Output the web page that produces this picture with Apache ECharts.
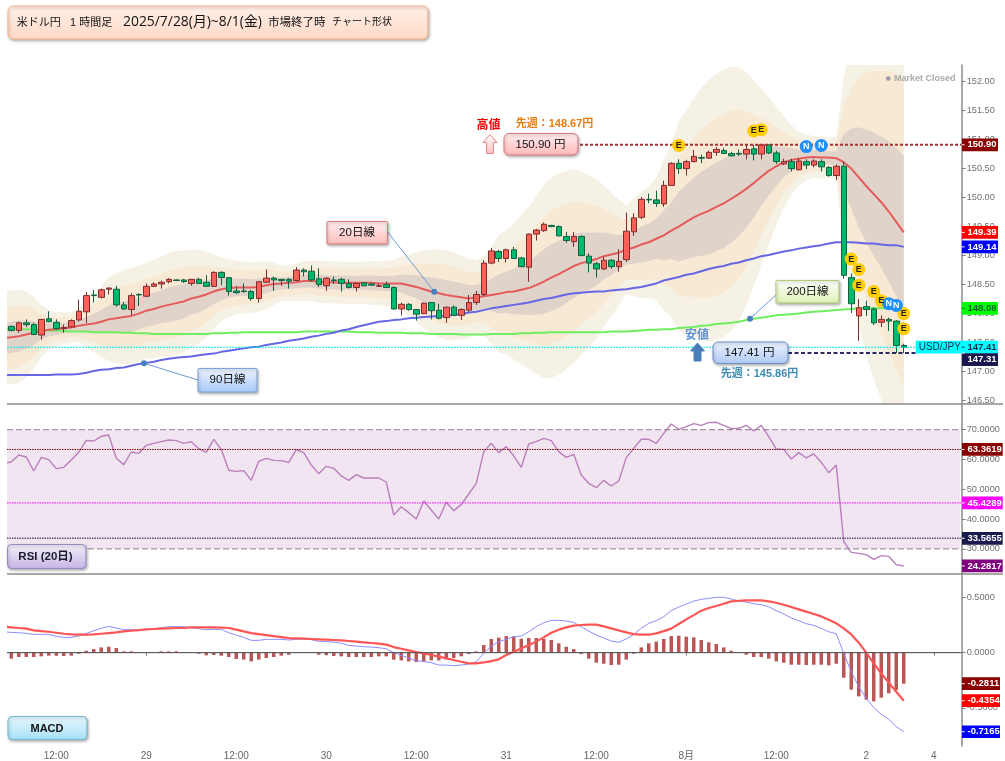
<!DOCTYPE html>
<html><head><meta charset="utf-8">
<style>html,body{margin:0;padding:0;background:#fff}#c{width:1005px;height:761px}</style>
<script src="https://cdn.jsdelivr.net/npm/echarts@6/dist/echarts.min.js"></script>
</head><body><div id="c"></div>
<script>
// ---- bars (hourly, 7/28 06:00 .. 8/2 05:00) ----
const opens=[147.77,147.70,147.83,147.80,147.62,147.90,147.84,147.73,147.76,147.88,
148.02,148.31,148.27,148.41,148.41,148.14,148.06,148.32,148.29,148.46,
148.50,148.54,148.57,148.57,148.51,148.58,148.53,148.46,148.70,148.61,
148.38,148.38,148.37,148.25,148.53,148.60,148.58,148.58,148.56,148.74,
148.72,148.59,148.47,148.57,148.58,148.51,148.44,148.52,148.50,148.46,
148.49,148.44,148.07,148.15,148.06,147.99,148.18,148.05,147.92,148.10,
147.96,148.05,148.18,148.32,148.86,149.06,148.94,149.09,148.95,148.79,
149.36,149.42,149.51,149.49,149.32,149.23,149.32,148.98,148.85,148.76,
148.91,148.80,148.92,149.40,149.65,149.96,149.95,149.88,150.20,150.58,
150.49,150.61,150.68,150.67,150.77,150.80,150.75,150.75,150.74,150.83,
150.74,150.90,150.76,150.57,150.61,150.47,150.61,150.55,150.61,150.51,
150.37,150.53,148.61,147.95,148.11,148.07,147.84,147.89,147.86,147.44];
const closes=[147.70,147.83,147.80,147.63,147.89,147.85,147.73,147.75,147.87,148.03,
148.30,148.30,148.40,148.43,148.14,148.07,148.30,148.31,148.46,148.50,
148.53,148.58,148.56,148.54,148.58,148.51,148.46,148.70,148.61,148.37,
148.35,148.37,148.25,148.54,148.60,148.57,148.56,148.55,148.74,148.71,
148.57,148.49,148.60,148.56,148.51,148.44,148.51,148.47,148.48,148.47,
148.44,148.07,148.15,148.06,147.98,148.17,148.04,147.91,148.10,147.96,
148.06,148.18,148.32,148.86,149.07,148.94,149.09,148.94,148.80,149.36,
149.43,149.53,149.49,149.33,149.25,149.32,148.99,148.86,148.76,148.91,
148.80,148.89,149.41,149.64,149.96,149.95,149.89,150.20,150.58,150.49,
150.61,150.70,150.67,150.77,150.82,150.75,150.71,150.74,150.82,150.74,
150.90,150.76,150.61,150.61,150.49,150.62,150.55,150.62,150.52,150.37,
150.53,148.65,148.16,148.09,148.06,147.83,147.89,147.86,147.44,147.41];
const highs=[147.78,147.85,147.89,147.83,147.89,148.03,147.89,147.80,147.89,148.23,
148.36,148.40,148.42,148.44,148.47,148.19,148.34,148.34,148.51,148.53,
148.56,148.60,148.58,148.59,148.58,148.61,148.65,148.72,148.72,148.61,
148.46,148.51,148.40,148.55,148.75,148.63,148.58,148.60,148.79,148.77,
148.82,148.77,148.62,148.63,148.61,148.58,148.52,148.53,148.52,148.51,
148.54,148.46,148.18,148.17,148.06,148.18,148.19,148.16,148.11,148.13,
148.08,148.31,148.38,148.91,149.12,149.09,149.11,149.14,148.97,149.37,
149.45,149.56,149.52,149.51,149.40,149.40,149.34,149.03,148.88,148.97,
148.93,149.10,149.73,149.72,150.00,150.06,150.11,150.28,150.60,150.65,
150.64,150.81,150.73,150.80,150.86,150.85,150.78,150.82,150.90,150.90,
150.90,150.90,150.80,150.66,150.66,150.67,150.65,150.65,150.65,150.53,
150.56,150.61,148.68,148.24,148.21,148.10,147.96,147.92,147.88,147.47];
const lows=[147.68,147.66,147.76,147.62,147.54,147.84,147.71,147.66,147.75,147.85,
147.83,148.18,148.25,148.32,148.11,148.05,147.96,148.12,148.27,148.45,
148.42,148.51,148.55,148.52,148.47,148.50,148.45,148.45,148.48,148.30,
148.33,148.35,148.21,148.18,148.52,148.38,148.47,148.42,148.55,148.63,
148.54,148.45,148.38,148.50,148.37,148.42,148.37,148.46,148.47,148.45,
148.43,148.06,147.96,148.04,147.87,147.98,147.89,147.89,147.83,147.95,
147.88,148.02,148.14,148.29,148.84,148.88,148.87,148.93,148.79,148.54,
149.25,149.40,149.48,149.32,149.21,149.14,148.98,148.70,148.61,148.74,
148.76,148.71,148.88,149.33,149.62,149.89,149.83,149.83,150.19,150.40,
150.37,150.60,150.58,150.66,150.71,150.74,150.70,150.71,150.65,150.63,
150.65,150.74,150.57,150.55,150.44,150.46,150.48,150.51,150.44,150.35,
150.29,148.59,148.00,147.52,147.95,147.79,147.76,147.69,147.31,147.31];
// ---- lines: first entry is the bar just before the first candle ----
const ma20=[147.57,147.58,147.60,147.63,147.66,147.69,147.71,147.72,147.74,147.75,147.78,
147.80,147.82,147.85,147.89,147.91,147.93,147.95,147.99,148.04,148.07,
148.11,148.14,148.17,148.20,148.25,148.28,148.32,148.37,148.41,148.43,
148.44,148.44,148.44,148.45,148.48,148.50,148.51,148.52,148.53,148.55,
148.55,148.54,148.53,148.53,148.52,148.52,148.52,148.52,148.52,148.51,
148.51,148.51,148.51,148.48,148.45,148.41,148.37,148.34,148.31,148.29,
148.27,148.25,148.27,148.29,148.31,148.33,148.36,148.37,148.40,148.43,
148.48,148.54,148.61,148.67,148.74,148.81,148.86,148.89,148.93,148.98,
149.01,149.04,149.09,149.13,149.18,149.22,149.28,149.34,149.42,149.49,
149.57,149.65,149.71,149.76,149.83,149.89,149.97,150.05,150.14,150.24,
150.35,150.45,150.53,150.60,150.64,150.66,150.68,150.69,150.68,150.68,
150.67,150.60,150.49,150.34,150.19,150.05,149.91,149.75,149.57,149.39];
const ma90=[146.93,146.93,146.93,146.93,146.93,146.93,146.93,146.94,146.94,146.94,146.95,
146.97,147.00,147.02,147.03,147.05,147.06,147.09,147.12,147.14,147.16,
147.19,147.21,147.23,147.24,147.25,147.27,147.29,147.30,147.33,147.35,
147.37,147.39,147.41,147.42,147.45,147.47,147.49,147.52,147.54,147.56,
147.59,147.61,147.64,147.66,147.70,147.72,147.76,147.79,147.82,147.85,
147.86,147.88,147.89,147.91,147.92,147.93,147.94,147.95,147.95,147.97,
147.98,148.01,148.02,148.05,148.08,148.10,148.12,148.14,148.16,148.18,
148.21,148.24,148.26,148.29,148.32,148.34,148.35,148.36,148.37,148.37,
148.39,148.40,148.41,148.43,148.45,148.48,148.51,148.56,148.59,148.62,
148.66,148.68,148.72,148.76,148.79,148.81,148.85,148.87,148.91,148.94,
148.98,149.00,149.03,149.06,149.08,149.11,149.13,149.15,149.17,149.20,
149.22,149.22,149.22,149.21,149.20,149.20,149.18,149.17,149.17,149.14];
const ma200=[147.72,147.72,147.72,147.72,147.71,147.71,147.70,147.70,147.69,147.68,147.68,
147.68,147.67,147.67,147.67,147.67,147.66,147.66,147.65,147.65,147.64,
147.64,147.64,147.64,147.64,147.64,147.64,147.64,147.65,147.65,147.66,
147.66,147.67,147.67,147.67,147.67,147.67,147.67,147.67,147.67,147.68,
147.68,147.68,147.68,147.68,147.68,147.68,147.67,147.67,147.67,147.66,
147.66,147.66,147.66,147.65,147.65,147.65,147.64,147.64,147.64,147.64,
147.63,147.63,147.63,147.63,147.64,147.64,147.64,147.64,147.65,147.65,
147.66,147.66,147.67,147.67,147.67,147.67,147.67,147.67,147.67,147.67,
147.68,147.68,147.68,147.69,147.70,147.71,147.71,147.72,147.72,147.74,
147.75,147.76,147.78,147.79,147.81,147.82,147.83,147.85,147.88,147.90,
147.92,147.94,147.96,147.97,147.98,147.99,148.01,148.02,148.03,148.04,
148.05,148.06,148.07,148.08,148.08,148.08,148.08,148.08,148.08,148.08];
// width of one band step around the 20-bar line, as read from the shaded edges
const bandStep=[.270,.270,.270,.247,.207,.149,.115,.098,.092,.086,.098,
.132,.167,.201,.241,.259,.270,.276,.276,.276,.282,
.287,.299,.299,.293,.282,.270,.247,.213,.184,.167,
.155,.149,.144,.144,.138,.121,.103,.103,.109,.115,
.115,.121,.121,.121,.121,.121,.121,.121,.126,.126,
.132,.132,.155,.178,.201,.224,.241,.253,.259,.253,
.241,.230,.213,.230,.276,.339,.356,.391,.431,.466,
.511,.557,.575,.580,.569,.557,.529,.494,.460,.408,
.356,.305,.253,.282,.305,.322,.351,.431,.494,.603,
.644,.684,.724,.753,.764,.770,.759,.730,.672,.592,
.506,.425,.339,.264,.201,.155,.132,.121,.121,.115,
.121,.489,.690,.862,.971,1.063,1.132,1.213,1.276,1.322];
const rsi=[58.72,59.16,61.51,60.84,56.14,60.73,59.95,56.93,57.37,59.84,62.41,
66.43,66.21,67.78,68.22,60.39,58.27,62.52,62.07,64.76,65.43,
65.99,66.55,66.32,65.43,65.99,63.64,62.41,66.77,63.41,56.37,
56.03,56.26,53.01,59.39,60.39,59.72,59.61,59.05,63.30,62.30,
58.16,55.25,57.71,57.04,54.47,53.01,54.91,53.79,53.79,53.79,
52.45,41.38,44.17,42.16,40.04,46.08,43.06,40.04,45.63,42.83,
44.85,48.43,52.00,62.63,65.43,62.30,64.31,61.18,57.37,65.20,
65.99,67.11,66.32,62.63,60.73,61.74,54.80,52.00,50.55,53.01,
51.11,52.79,60.62,63.75,66.77,66.77,65.43,68.78,71.92,70.13,
71.02,72.03,71.47,72.36,72.48,71.47,70.35,70.46,71.47,69.57,
71.47,67.67,63.53,63.41,60.17,62.30,60.51,61.85,59.05,55.58,
58.16,32.43,28.85,28.51,28.07,26.50,27.73,27.51,24.71,24.28];
const macd=[.190,.184,.181,.175,.166,.166,.166,.148,.139,.139,.151,
.175,.199,.221,.239,.224,.209,.209,.209,.212,.218,
.227,.236,.236,.236,.227,.218,.209,.212,.212,.181,
.160,.139,.112,.112,.121,.121,.121,.115,.121,.124,
.118,.103,.100,.097,.085,.066,.060,.054,.051,.045,
.036,0,-.024,-.048,-.073,-.079,-.091,-.112,-.112,-.118,
-.112,-.103,-.082,-.006,.060,.100,.121,.145,.151,.190,
.236,.272,.293,.293,.287,.275,.236,.196,.160,.133,
.106,.094,.124,.166,.221,.266,.290,.326,.381,.414,
.441,.468,.484,.493,.502,.502,.487,.468,.459,.444,
.435,.417,.381,.351,.314,.290,.263,.248,.221,.190,
.172,-.006,-.172,-.308,-.414,-.496,-.559,-.604,-.671,-.7165];
const signal=[.236,.230,.224,.218,.202,.196,.190,.181,.172,.166,.163,
.163,.166,.172,.178,.184,.193,.199,.205,.212,.215,
.218,.221,.224,.224,.230,.230,.230,.230,.227,.224,
.209,.193,.178,.169,.160,.151,.142,.133,.130,.127,
.124,.121,.118,.115,.112,.106,.100,.094,.088,.082,
.073,.051,.036,.021,.006,-.006,-.021,-.036,-.051,-.066,
-.082,-.097,-.097,-.088,-.076,-.060,-.021,.009,.039,.070,
.100,.139,.181,.209,.230,.245,.251,.254,.254,.239,
.221,.202,.184,.169,.163,.163,.175,.196,.218,.260,
.302,.341,.381,.405,.423,.444,.465,.471,.474,.474,
.474,.465,.453,.435,.414,.393,.372,.351,.329,.299,
.266,.221,.166,.091,0,-.097,-.187,-.272,-.354,-.4354];
const hist=[-.054,-.039,-.039,-.039,-.033,-.027,-.027,-.030,-.027,-.009,
.018,.033,.048,.054,.042,.012,.012,.001,.001,.001,
.012,.012,.012,.003,.003,-.009,-.024,-.021,-.027,-.039,
-.057,-.063,-.079,-.063,-.048,-.039,-.027,-.018,0,.003,
0,-.018,-.021,-.030,-.033,-.039,-.039,-.039,-.039,-.033,
-.033,-.063,-.070,-.079,-.085,-.082,-.070,-.070,-.060,-.048,
-.033,-.012,.012,.070,.124,.136,.151,.148,.127,.133,
.133,.127,.115,.085,.054,.033,-.012,-.054,-.091,-.100,
-.112,-.109,-.063,-.009,.048,.085,.100,.124,.151,.154,
.145,.139,.115,.094,.079,.048,.018,0,-.018,-.039,
-.039,-.054,-.079,-.091,-.109,-.109,-.112,-.109,-.109,-.115,
-.100,-.227,-.335,-.396,-.426,-.441,-.408,-.369,-.338,-.2811];
// ---- event markers: bar number, price ----
const eventsE=[[89,150.89],[99,151.14],[100,151.16],[112,148.93],[113,148.75],[113,148.48],[115,148.37],[116,148.21],[119,147.99],[119,147.73]];
const eventsN=[[106,150.87],[108,150.89],[117,148.16],[118,148.13]];
// ---- ticks ----
const priceTicks=[146.5,147,147.5,148,148.5,149,149.5,150,150.5,151,151.5,152];
const rsiTicks=[30,40,50,60,70];
const macdTicks=[-0.5,0,0.5];
const timeTickBars=[6,18,30,42,54,66,78,90,102,114,123];
const timeTickNames=['12:00','29','12:00','30','12:00','31','12:00','8月','12:00','2','4'];
// ---- levels ----
const priceLevels=[150.90,149.39,149.14,148.08,147.41,147.31];
const rsiLevels=[70,30,63.3619,45.4289,33.5655,24.2817];
const macdLevels=[0,-0.2811,-0.4354,-0.7165];

const CAT=128;
const xNames=new Array(CAT).fill('');
timeTickBars.forEach((b,k)=>{xNames[b+1]=timeTickNames[k];});
const pad=a=>['-'].concat(a);
const AX=961.7;
const NUM="'Liberation Sans',Arial,sans-serif";
const JP="'Liberation Sans','Noto Sans CJK JP',sans-serif";
const OS="'Open Sans','Noto Sans CJK JP',sans-serif";

function grad(a,b){return new echarts.graphic.LinearGradient(0,0,0,1,[{offset:0,color:a},{offset:1,color:b}]);}

function line(name,data,color,width,xi,yi,z){
  return {name,type:'line',data,xAxisIndex:xi,yAxisIndex:yi,symbol:'none',silent:true,z:z||3,
    lineStyle:{color,width},animation:false};
}
function band(k,color,z){
  const lo=ma20.map((m,i)=>+(m-k*bandStep[i]).toFixed(3));
  const w=bandStep.map(s=>+(2*k*s).toFixed(3));
  const st='band'+k;
  return [
    {type:'line',stack:st,data:lo,symbol:'none',lineStyle:{width:0,opacity:0},silent:true,z,animation:false,xAxisIndex:0,yAxisIndex:0},
    {type:'line',stack:st,data:w,symbol:'none',lineStyle:{width:0,opacity:0},areaStyle:{color,opacity:1},silent:true,z,animation:false,xAxisIndex:0,yAxisIndex:0}
  ];
}
function levelSeries(values,specs,xi,yi){
  return {type:'custom',xAxisIndex:xi,yAxisIndex:yi,silent:true,z:6,animation:false,clip:false,
    data:values.map(v=>[1,v]),
    encode:{x:0,y:1},
    renderItem(params,api){
      const s=specs[params.dataIndex];
      const y=api.coord([1,api.value(1)])[1];
      const ch=[];
      if(s.line){
        ch.push({type:'line',shape:{x1:s.from,y1:y,x2:s.to,y2:y},
          style:{stroke:s.line,lineWidth:s.lw||1,lineDash:s.dash}});
      }
      if(s.tag){
        const cy=y+(s.dy||0), h=12.7, x0=s.tagX||AX+0.3;
        ch.push({type:'rect',shape:{x:x0,y:cy-h/2,width:s.tagR-x0,height:h},style:{fill:s.tag}});
        ch.push({type:'line',shape:{x1:AX,y1:y,x2:AX+3,y2:y},style:{stroke:s.fg||'#fff',lineWidth:1}});
        ch.push({type:'text',style:{x:s.tx||967.5,y:cy,text:s.text,fill:s.fg||'#fff',
          font:'bold 9.5px '+NUM,textVerticalAlign:'middle',verticalAlign:'middle'}});
        if(s.lead) ch.push({type:'text',style:{x:x0+3,y:cy,text:s.lead,fill:s.fg||'#fff',
          font:'10px '+NUM,textVerticalAlign:'middle',verticalAlign:'middle'}});
      }
      return {type:'group',children:ch};
    }};
}

const priceSpecs=[
 {line:'#a83232',lw:2,dash:[3,2],from:580,to:AX,tag:'#8b0000',tagR:998,text:'150.90'},
 {tag:'#ff0000',tagR:998,text:'149.39'},
 {tag:'#0000ff',tagR:998,text:'149.14'},
 {tag:'#00ff00',tagR:998,text:'148.08',fg:'#062'},
 {line:'#00e6e6',lw:1,dash:[2,1],from:7,to:916,tag:'#00ffff',tagX:915.7,tagR:998,text:'147.41',fg:'#14304a',lead:'USD/JPY'},
 {line:'#2a2a66',lw:2,dash:[4,2.5],from:788,to:916,tag:'#1a1a4e',tagR:998,text:'147.31',dy:6.6}
];
const rsiSpecs=[
 {line:'#8e7a92',lw:1,dash:[6,3],from:7,to:AX},
 {line:'#8e7a92',lw:1,dash:[6,3],from:7,to:AX},
 {line:'#8b0000',lw:1,dash:[1.5,1],from:7,to:AX,tag:'#8b0000',tagR:1002.7,text:'63.3619'},
 {line:'#ff00ff',lw:1,dash:[1.5,1],from:7,to:AX,tag:'#ff00ff',tagR:1002.7,text:'45.4289'},
 {line:'#5c5478',lw:1.6,dash:[1.5,1],from:7,to:AX,tag:'#1a1a4e',tagR:1002.7,text:'33.5655'},
 {tag:'#800080',tagR:1002.7,text:'24.2817'}
];
const macdSpecs=[
 {line:'#555',lw:1,from:7,to:AX},
 {tag:'#8b0000',tagR:1000,text:'-0.2811'},
 {tag:'#ff0000',tagR:1000,text:'-0.4354'},
 {tag:'#0000ff',tagR:1000,text:'-0.7165'}
];

function icons(data,color,txt){
  return {type:'scatter',xAxisIndex:0,yAxisIndex:0,data:data.map(d=>[d[0]+1,d[1]]),symbol:'circle',symbolSize:13,z:7,silent:true,animation:false,
    itemStyle:{color,opacity:1},
    label:{show:true,position:'inside',formatter:txt,fontSize:9,fontWeight:'bold',fontFamily:NUM,color:txt==='E'?'#222':'#fff'}};
}
function xAxis(gi,show){
  return {type:'category',gridIndex:gi,data:xNames,boundaryGap:true,
    axisLine:{show,lineStyle:{color:'#808080',width:1}},
    axisTick:{show,alignWithLabel:true,length:3,lineStyle:{color:'#808080'},interval:(i)=>xNames[i]!==''},
    axisLabel:{show,interval:(i)=>xNames[i]!=='',color:'#666',fontSize:10,fontFamily:JP,margin:5,hideOverlap:false},
    splitLine:{show:false}};
}
function yAxis(gi,min,max,ticks,dec){
  return {type:'value',gridIndex:gi,position:'right',offset:1.7,min,max,scale:true,
    axisLine:{show:true,lineStyle:{color:'#8c8c8c',width:1.5}},
    axisTick:{show:true,length:4,lineStyle:{color:'#808080'},customValues:ticks},
    axisLabel:{show:true,customValues:ticks,color:'#707070',fontSize:9.2,fontFamily:NUM,margin:5,
      formatter:v=>v.toFixed(dec)},
    splitLine:{show:false}};
}

function box(x,y,w,h,c1,c2,stroke,r){
  return {type:'rect',z:50,silent:true,shape:{x,y,width:w,height:h,r:r||3},
    style:{fill:grad(c1,c2),stroke,lineWidth:1,shadowBlur:3,shadowOffsetY:1.5,shadowOffsetX:1,shadowColor:'rgba(0,0,0,.3)'}};
}
function txt(x,y,text,opt){
  opt=opt||{};
  return {type:'text',z:51,silent:true,style:{x,y,text,fill:opt.fill||'#111',font:(opt.bold?'bold ':'')+(opt.size||12)+'px '+(opt.family||JP),
    textAlign:opt.align||'center',textVerticalAlign:'middle',align:opt.align||'center',verticalAlign:'middle'}};
}
function seg(x1,y1,x2,y2,c,w,z){return {type:'line',z:z||49,silent:true,shape:{x1,y1,x2,y2},style:{stroke:c,lineWidth:w||1}};}
function dot(cx,cy){return {type:'circle',z:50,silent:true,shape:{cx,cy,r:3},style:{fill:'#4a80c0'}};}
function arrowUp(cx,top,bot,fill,stroke){
  return {type:'polygon',z:50,silent:true,shape:{points:[[cx,top],[cx+7,top+8],[cx+3.5,top+8],[cx+3.5,bot],[cx-3.5,bot],[cx-3.5,top+8],[cx-7,top+8]]},
    style:{fill,stroke,lineWidth:1}};
}

const graphics=[
 // left margin mask and panel rules
 {type:'rect',z:40,silent:true,shape:{x:0,y:60,width:7,height:690},style:{fill:'#fff'}},
 seg(7,404,1003,404,'#8a8a8a',1.5,41),
 seg(7,574,1003,574,'#8a8a8a',1.5,41),
 // title
 box(8,6,420,33,'#fff0e8','#ffd9c6','#f4b68c',5),
 txt(16.7,22.5,'米ドル円',{align:'left',size:11}),
 txt(70,22.5,'1 時間足',{align:'left',size:11}),
 txt(123,22.5,'2025/7/28(月)~8/1(金)',{align:'left',size:13.9,family:OS}),
 txt(268,22.5,'市場終了時',{align:'left',size:11.5}),
 txt(332,22.5,'チャート形状',{align:'left',size:10}),
 // market closed
 {type:'circle',z:50,silent:true,shape:{cx:888.3,cy:78.5,r:2.3},style:{fill:'#999'}},
 txt(894,78.5,'Market Closed',{align:'left',size:9,fill:'#aaa',bold:true}),
 // high
 txt(488.5,126,'高値',{bold:true,size:12,fill:'#f00000'}),
 txt(554.5,124,'先週：148.67円',{bold:true,size:11,fill:'#e87c12'}),
 arrowUp(490,134.5,153.5,grad('#ffffff','#ffbcbc'),'#e08a8a'),
 box(504,133.5,74,21.5,'#fff0f0','#ffb8b8','#d87a7a',5),
 txt(540.5,144.5,'150.90 円',{size:11.5}),
 // 20日線
 seg(387.7,232,434.3,291.7,'#6b9ad2'),
 dot(434.3,291.7),
 box(327,221.5,60.5,22.5,'#fff0f0','#ffbcbc','#d87a7a',1),
 txt(357,232.5,'20日線',{size:11.5}),
 // 90日線
 seg(198,380,144,363.3,'#6b9ad2'),
 dot(144,363.3),
 box(198,368.5,59,23.5,'#eef4ff','#a8c8f8','#7fa3d8',1),
 txt(227.5,380,'90日線',{size:11.5}),
 // 200日線
 seg(776,295,750,318.7,'#6b9ad2'),
 dot(750,318.7),
 box(776,280.5,63,22.5,'#ffffff','#dcf3b4','#b5c97e',1),
 txt(807.5,291.5,'200日線',{size:11.5}),
 // low
 txt(697,336,'安値',{size:12,fill:'#5f90d4',bold:true}),
 arrowUp(697.5,343,361,'#4a7ebb','#4a7ebb'),
 box(713,342,75,21.5,'#eef4ff','#afc9f4','#6d90c8',5),
 txt(749.5,353,'147.41 円',{size:11.5}),
 txt(759.5,374,'先週：145.86円',{bold:true,size:11,fill:'#3a8cb4'}),
 // pane buttons
 box(7.5,544.5,78.5,24,'#f4f0fb','#c6b5e6','#9a88c0',4),
 txt(45.5,556.5,'RSI (20日)',{bold:true,size:11.5,fill:'#1a1a2e'}),
 box(8,716.5,79,23,'#e8f9ff','#a6e0f8','#72b8d0',4),
 txt(47,728.5,'MACD',{bold:true,size:11,fill:'#111'})
];

const series=[
  ...band(3,'#f5f2e5',1),
  ...band(2,'#f8e9d4',1.1),
  ...band(1,'#e0d3ca',1.2),
  line('MA200',ma200,'#70ee60',2,0,0,3),
  line('MA90',ma90,'#6666e6',2,0,0,3),
  line('MA20',ma20,'#e55a5a',2,0,0,3),
  {type:'candlestick',xAxisIndex:0,yAxisIndex:0,silent:true,z:4,animation:false,barWidth:6,clip:false,
    data:pad(opens.map((o,i)=>[o,closes[i],lows[i],highs[i]])),
    itemStyle:{color:'#fa5f58',color0:'#00b96c',borderColor:'#7c2c2c',borderColor0:'#12603f',borderWidth:1}},
  icons(eventsE,'#ffcc00','E'),
  icons(eventsN,'#1e90ff','N'),
  levelSeries(priceLevels,priceSpecs,0,0),
  // RSI
  {name:'RSI',type:'line',data:rsi,xAxisIndex:1,yAxisIndex:1,symbol:'none',silent:true,z:3,animation:false,
    lineStyle:{color:'#b97fbb',width:1.4},
    markArea:{silent:true,itemStyle:{color:'#f1e5f2',opacity:1},data:[[{yAxis:70},{yAxis:30}]]}},
  levelSeries(rsiLevels,rsiSpecs,1,1),
  // MACD
  {name:'hist',type:'bar',data:pad(hist),xAxisIndex:2,yAxisIndex:2,barWidth:3.5,silent:true,z:2,animation:false,
    itemStyle:{color:'#b95656'}},
  line('MACD',macd,'#8c8cff',1,2,2,3),
  line('Signal',signal,'#ff5555',2.2,2,2,4),
  levelSeries(macdLevels,macdSpecs,2,2)
];

const chart=echarts.init(document.getElementById('c'),null,{renderer:'canvas'});
chart.setOption({
  animation:false,backgroundColor:'#fff',
  grid:[
    {left:0,width:960,top:65,height:339,containLabel:false},
    {left:0,width:960,top:404,height:170,containLabel:false},
    {left:0,width:960,top:574,height:172,containLabel:false}
  ],
  xAxis:[xAxis(0,false),xAxis(1,false),xAxis(2,true)],
  yAxis:[yAxis(0,146.431,152.276,priceTicks,2),yAxis(1,21.58,78.62,rsiTicks,4),yAxis(2,-0.8459,0.7135,macdTicks,4)],
  graphic:{elements:graphics},
  series
});
</script></body></html>
